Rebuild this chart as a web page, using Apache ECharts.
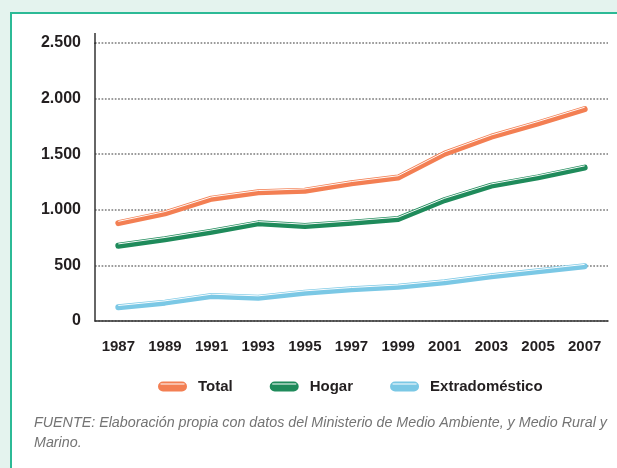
<!DOCTYPE html>
<html>
<head>
<meta charset="utf-8">
<script src="https://cdn.jsdelivr.net/npm/echarts@6/dist/echarts.min.js"></script>
<style>
  html, body { margin: 0; padding: 0; background: #e4f3ee; }
  #chart { width: 617px; height: 468px; }
</style>
</head>
<body>
<div id="chart"></div>
<script>
// datos (miles de toneladas aprox.)
var years = ['1987', '1989', '1991', '1993', '1995', '1997', '1999', '2001', '2003', '2005', '2007'];
var total = [880, 968, 1100, 1157, 1172, 1238, 1290, 1505, 1657, 1778, 1906];
var hogar = [677, 735, 803, 878, 854, 884, 917, 1088, 1217, 1292, 1379];
var extra = [123, 165, 225, 210, 255, 285, 308, 348, 402, 447, 493];
var yTicks = [0, 500, 1000, 1500, 2000, 2500];

var names = ['Total', 'Hogar', 'Extradoméstico'];
var colors = ['#f37f53', '#1f8b5b', '#7bc8e5'];

// icono de leyenda: pastilla con un brillo blanco arriba
var pill = 'path://M5,0 H24 A5,5 0 0 1 24,10 H5 A5,5 0 0 1 5,0 Z M2.5,2.0 V3.0 H26.5 V2.0 Z';

var chart = echarts.init(document.getElementById('chart'));

function mainLine(name, data, color) {
	return {
		name: name,
		type: 'line',
		data: data,
		showSymbol: false,
		symbol: 'none',
		z: 3,
		lineStyle: {
			color: color,
			width: 6,
			cap: 'round',
			join: 'round'
		},
		itemStyle: { color: color }
	};
}

// brillo: linea fina del mismo color con sombra blanca desplazada hacia arriba
function shine(data, color) {
	return {
		name: '_shine',
		type: 'line',
		data: data,
		symbol: 'none',
		silent: true,
		z: 4,
		lineStyle: {
			color: color,
			width: 1,
			join: 'round',
			shadowColor: 'rgba(255,255,255,0.95)',
			shadowBlur: 0,
			shadowOffsetY: -1.8
		}
	};
}

var option = {
	backgroundColor: '#e4f3ee',
	animation: false,
	graphic: [
		{
			type: 'rect',
			z: -10,
			shape: { x: 11, y: 13, width: 700, height: 600 },
			style: { fill: '#ffffff', stroke: '#2cba96', lineWidth: 2 }
		},
		{
			type: 'line',
			z: 5,
			shape: { x1: 95, y1: 33, x2: 95, y2: 44 },
			style: { stroke: '#333333', lineWidth: 1.5 }
		},
		{
			type: 'text',
			x: 34,
			y: 413,
			style: {
				text: 'FUENTE: Elaboración propia con datos del Ministerio de Medio Ambiente, y Medio Rural y\nMarino.',
				font: 'italic 14.3px "Liberation Sans", Arial, sans-serif',
				fill: '#747474',
				lineHeight: 20,
				verticalAlign: 'top'
			}
		}
	],
	grid: {
		left: 95,
		right: 9,
		top: 43,
		bottom: 147
	},
	legend: {
		data: names.map(function (n, i) {
			return {
				name: n,
				icon: pill,
				itemStyle: { color: colors[i], borderWidth: 0 }
			};
		}),
		left: 153,
		top: 374,
		itemWidth: 29,
		itemHeight: 10,
		itemGap: 37,
		itemStyle: { borderWidth: 0 },
		textStyle: {
			fontFamily: '"Liberation Sans", Arial, sans-serif',
			fontWeight: 'bold',
			fontSize: 15,
			color: '#231f20',
			padding: [0, 0, 0, 6]
		}
	},
	xAxis: {
		type: 'category',
		data: years,
		boundaryGap: true,
		axisLine: { lineStyle: { color: '#333333', width: 1.5 } },
		axisTick: { show: false },
		axisLabel: {
			margin: 18,
			fontFamily: '"Liberation Sans", Arial, sans-serif',
			fontWeight: 'bold',
			fontSize: 15,
			color: '#231f20'
		}
	},
	yAxis: {
		type: 'value',
		min: yTicks[0],
		max: yTicks[yTicks.length - 1],
		interval: 500,
		axisLine: { show: true, lineStyle: { color: '#333333', width: 1.5 } },
		axisTick: { show: false },
		axisLabel: {
			margin: 14,
			fontFamily: '"Liberation Sans", Arial, sans-serif',
			fontWeight: 'bold',
			fontSize: 16,
			color: '#231f20',
			formatter: function (v) {
				return String(v).replace(/\B(?=(\d{3})+(?!\d))/g, '.');
			}
		},
		splitLine: {
			lineStyle: { color: '#9b9b9b', width: 1.8, type: [1.7, 1.6] }
		}
	},
	series: [
		mainLine(names[2], extra, colors[2]), shine(extra, colors[2]),
		mainLine(names[1], hogar, colors[1]), shine(hogar, colors[1]),
		mainLine(names[0], total, colors[0]), shine(total, colors[0])
	]
};

chart.setOption(option);
</script>
</body>
</html>
